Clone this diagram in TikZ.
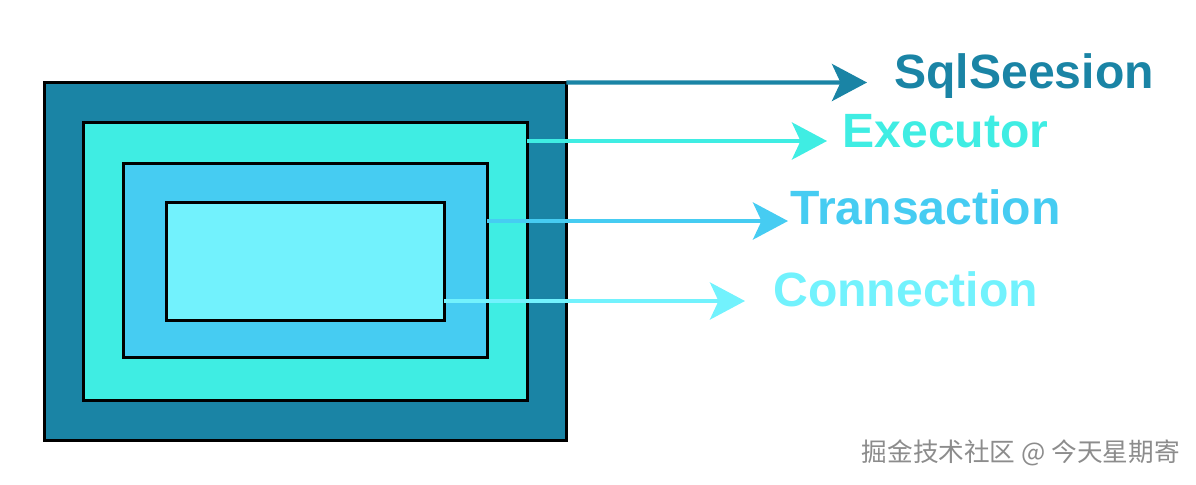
\documentclass[tikz,border=0pt]{standalone}
\usepackage{fontspec}
\setmainfont{Liberation Sans}
\newfontfamily\cjkfont{Noto Sans CJK SC}
\usetikzlibrary{arrows.meta,calc}

\definecolor{sessblue}{HTML}{1A84A5}
\definecolor{execcyan}{HTML}{3FEDE3}
\definecolor{transblue}{HTML}{46CCF2}
\definecolor{connblue}{HTML}{72F2FD}

\begin{document}
\begin{tikzpicture}[
    x=0.02cm, y=-0.02cm,
    layer/.style={rectangle, draw=black, line width=1.7pt, inner sep=0pt, outer sep=0pt},
    lbl/.style={anchor=base west, inner sep=0pt,
      font=\fontsize{27.4}{32}\selectfont\bfseries},
    arr/.style={-{Stealth[length=0.7cm, width=0.74cm, inset=0.17cm]}, line width=2.4pt}
  ]
    \useasboundingbox (0,0) rectangle (1196,484);

    \node[layer, fill=sessblue, minimum width=10.44cm, minimum height=7.16cm] (sess) at (305.5,261.5) {};
    \node[layer, fill=execcyan, minimum width=8.88cm, minimum height=5.56cm] (exec) at (305.5,261.5) {};
    \node[layer, fill=transblue, minimum width=7.28cm, minimum height=3.88cm] (trans) at (305.5,260.5) {};
    \node[layer, fill=connblue, minimum width=5.56cm, minimum height=2.36cm] (conn) at (305.5,261.5) {};

    \coordinate (sesstip) at (867,82.5);
    \coordinate (exectip) at (827,141);
    \coordinate (transtip) at (788,221);
    \coordinate (conntip) at (745,301);

    \node[lbl, text=sessblue] (sesslbl) at (894,88) {SqlSeesion};
    \node[lbl, text=execcyan] (execlbl) at (842,147) {Executor};
    \node[lbl, text=transblue] (translbl) at (790,224) {Transaction};
    \node[lbl, text=connblue] (connlbl) at (773,306) {Connection};

    \draw[arr, sessblue] (sess.north east) -- (sesstip);
    \draw[arr, execcyan] (exec.east |- exectip) -- (exectip);
    \draw[arr, transblue] (trans.east |- transtip) -- (transtip);
    \draw[arr, connblue] (conn.east |- conntip) -- (conntip);

    \node[anchor=east, inner sep=0pt, text=black!45,
      font=\cjkfont\fontsize{14.6}{17}\selectfont] (mark) at (1180,453) {掘金技术社区 @ 今天星期寄};
  \end{tikzpicture}
\end{document}
